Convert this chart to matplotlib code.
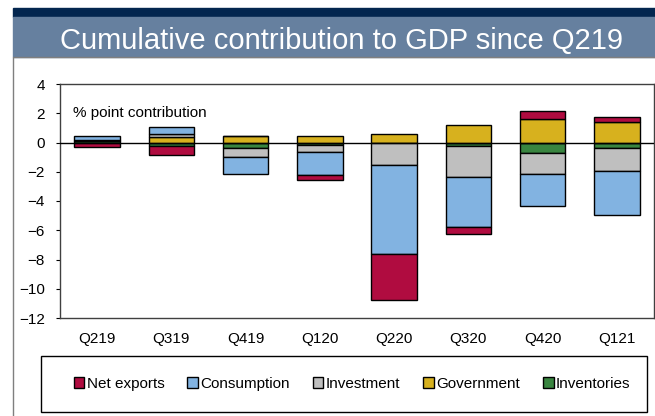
import matplotlib
matplotlib.use("Agg")
import matplotlib.pyplot as plt
import numpy as np
from matplotlib.patches import Rectangle

plt.rcParams['font.family'] = ['Liberation Sans', 'DejaVu Sans']

quarters = ["Q219", "Q319", "Q419", "Q120", "Q220", "Q320", "Q420", "Q121"]

net_exports  = [-0.33, -0.62, 0.00, -0.33, -3.13, -0.50, 0.55, 0.37]
consumption  = [0.24, 0.50, -1.18, -1.55, -6.10, -3.39, -2.17, -3.04]
investment   = [0.10, 0.20, -0.62, -0.50, -1.55, -2.14, -1.45, -1.57]
government   = [0.00, 0.38, 0.47, 0.47, 0.56, 1.18, 1.61, 1.40]
inventories  = [0.08, -0.24, -0.36, -0.17, 0.00, -0.24, -0.73, -0.36]

legend_order = ["Net exports", "Consumption", "Investment", "Government", "Inventories"]
series = {
    "Net exports": net_exports,
    "Consumption": consumption,
    "Investment": investment,
    "Government": government,
    "Inventories": inventories,
}
colors = {
    "Net exports": "#B00C40",
    "Consumption": "#82B3E1",
    "Investment": "#BFBFBF",
    "Government": "#D7B11E",
    "Inventories": "#398540",
}
# stacking order away from the zero line
stack_order = ["Inventories", "Government", "Investment", "Consumption", "Net exports"]

W, H = 655, 416
fig = plt.figure(figsize=(W / 100, H / 100), dpi=100)

def fx(px):
    return px / W

def fy(py):
    return 1 - py / H

# header bands
fig.patches.append(Rectangle((fx(13), fy(17)), 1 - fx(13), fy(8) - fy(17),
                             transform=fig.transFigure, color="#03264F", zorder=0))
fig.patches.append(Rectangle((fx(13), fy(57)), 1 - fx(13), fy(17) - fy(57),
                             transform=fig.transFigure, color="#66809F", zorder=0))
fig.text(fx(341), fy(41), "Cumulative contribution to GDP since Q219",
         color="white", fontsize=21, ha="center", va="center")

# chart frame
fig.patches.append(Rectangle((fx(13), -0.01), 1.02 - fx(13), fy(57) + 0.01,
                             transform=fig.transFigure, facecolor="none",
                             edgecolor="#7F7F7F", linewidth=1.0, zorder=0))

ax = fig.add_axes([fx(60), fy(318), fx(654) - fx(60), fy(84) - fy(318)])

x = np.arange(len(quarters))
pos_base = np.zeros(len(quarters))
neg_base = np.zeros(len(quarters))
handles = {}
for name in stack_order:
    vals = np.array(series[name], dtype=float)
    bottoms = np.where(vals >= 0, pos_base, neg_base)
    b = ax.bar(x, vals, width=0.61, bottom=bottoms, color=colors[name],
               edgecolor="black", linewidth=1.0, zorder=3, label=name)
    handles[name] = b
    pos_base = pos_base + np.where(vals >= 0, vals, 0)
    neg_base = neg_base + np.where(vals < 0, vals, 0)

ax.axhline(0, color="black", linewidth=1.0, zorder=4)
ax.set_xlim(-0.5, len(quarters) - 0.5)
ax.set_ylim(-12, 4)
ax.set_yticks(np.arange(-12, 5, 2))
ax.set_xticks(x)
ax.set_xticklabels(quarters)
ax.tick_params(axis="x", length=0, pad=10, labelsize=11)
ax.tick_params(axis="y", length=3, direction="out", labelsize=11, pad=8)
for s in ax.spines.values():
    s.set_color("#404040")
    s.set_linewidth(1.0)

ax.text(0.022, 0.875, "% point contribution", transform=ax.transAxes,
        fontsize=11, ha="left", va="center")

# legend box
fig.patches.append(Rectangle((fx(41), fy(412)), fx(647) - fx(41), fy(356) - fy(412),
                             transform=fig.transFigure, facecolor="white",
                             edgecolor="black", linewidth=1.0, zorder=1))
fig.legend([handles[n] for n in legend_order], legend_order, loc="center",
           bbox_to_anchor=(fx(352), fy(384)), ncol=5, frameon=False,
           fontsize=11, handlelength=0.7, handleheight=0.7,
           handletextpad=0.15, columnspacing=1.5)

fig.savefig("out.png", dpi=100)
